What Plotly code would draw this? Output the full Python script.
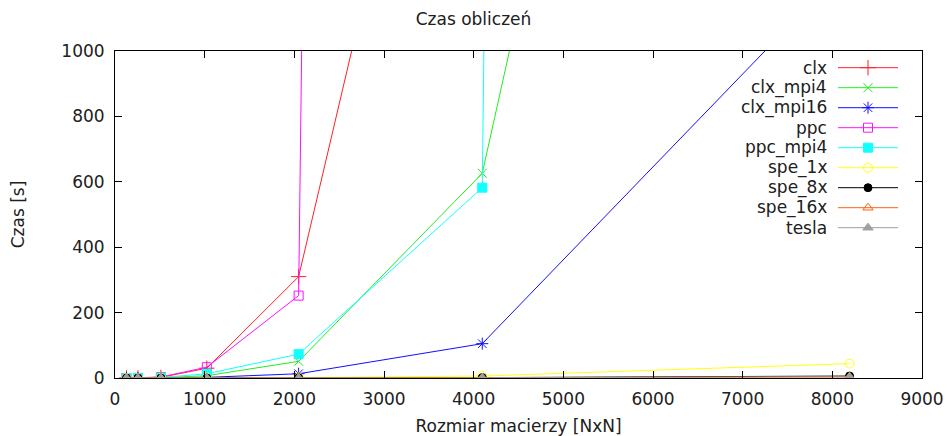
import plotly.graph_objects as go

# ---- data ----
sizes = [128, 256, 512, 1024, 2048, 4096, 8192]
series_names = ["clx", "clx_mpi4", "clx_mpi16", "ppc", "ppc_mpi4",
                "spe_1x", "spe_8x", "spe_16x", "tesla"]
clx       = [0.02, 0.2, 2.0, 30, 310, 2700, None]
clx_mpi4  = [0.02, 0.1, 1.0, 7, 51, 626, 5680]
clx_mpi16 = [0.01, 0.05, 0.3, 2, 13, 105, 1268]
ppc       = [0.03, 0.3, 3.0, 33, 252, 46000, None]
ppc_mpi4  = [0.02, 0.2, 1.5, 13, 73, 582, 96000]
spe_1x    = [0.0, 0.01, 0.1, 0.5, 1.5, 6, 44]
spe_8x    = [0.0, 0.0, 0.02, 0.1, 0.4, 1.2, 6]
spe_16x   = [0.0, 0.0, 0.01, 0.08, 0.3, 0.9, 4]
tesla     = [0.0, 0.0, 0.01, 0.05, 0.2, 0.6, 3]
values = [clx, clx_mpi4, clx_mpi16, ppc, ppc_mpi4, spe_1x, spe_8x, spe_16x, tesla]

x_ticks = [0, 1000, 2000, 3000, 4000, 5000, 6000, 7000, 8000, 9000]
y_ticks = [0, 200, 400, 600, 800, 1000]

# ---- styles ----
colors = ["#ff2020", "#20ee20", "#1010ff", "#ff10ff", "#10ffff",
          "#ffff10", "#000000", "#ff6010", "#a0a0a0"]
symbols = ["cross-thin-open", "x-thin-open", "asterisk-open", "square-open",
           "square", "circle-open", "circle", "triangle-up-open", "triangle-up"]
msizes = [11, 9, 10, 9, 9, 9, 8, 9, 9]

FONT = "DejaVu Sans"
FS = 17
TXT = "#202020"
W, H = 947, 436
ML, MR, MT, MB = 115, 25, 51, 58

fig = go.Figure()
for name, vals, c, s, ms in zip(series_names, values, colors, symbols, msizes):
    fig.add_trace(go.Scatter(
        x=sizes, y=vals, name=name, mode="lines+markers",
        line=dict(color=c, width=1),
        marker=dict(symbol=s, size=ms, color=c, line=dict(color=c, width=1)),
        cliponaxis=True, showlegend=False, connectgaps=False))

# ---- custom legend (gnuplot style: text right, sample to the right) ----
row0, row_step = 67.7, 20.0
for i, (name, c, s, ms) in enumerate(zip(series_names, colors, symbols, msizes)):
    yy = row0 + i * row_step
    fig.add_trace(go.Scatter(
        x=[838, 898], y=[yy, yy], mode="lines", line=dict(color=c, width=1),
        xaxis="x2", yaxis="y2", showlegend=False, hoverinfo="skip"))
    fig.add_trace(go.Scatter(
        x=[868], y=[yy], mode="markers",
        marker=dict(symbol=s, size=ms, color=c, line=dict(color=c, width=1)),
        xaxis="x2", yaxis="y2", showlegend=False, hoverinfo="skip"))
    fig.add_annotation(x=829, y=yy, xref="x2", yref="y2", text=name,
                       showarrow=False, xanchor="right", yanchor="middle",
                       font=dict(family=FONT, size=FS, color=TXT))

axis_common = dict(showline=True, linecolor="#000000", linewidth=1,
                   mirror="ticks", ticks="inside", ticklen=7, tickwidth=1,
                   tickcolor="#000000", showgrid=False, zeroline=False,
                   automargin=False, ticklabelstandoff=6,
                   tickfont=dict(family=FONT, size=FS, color=TXT))

fig.update_layout(
    width=W, height=H,
    margin=dict(l=ML, r=MR, t=MT, b=MB),
    paper_bgcolor="white", plot_bgcolor="white",
    title=dict(text="Czas obliczeń", x=0.5, xanchor="center", y=1 - 19 / H,
               yanchor="middle", font=dict(family=FONT, size=FS, color=TXT)),
    xaxis=dict(range=[0, 9000], tickvals=x_ticks,
               title=dict(text="Rozmiar macierzy [NxN]", standoff=17,
                          font=dict(family=FONT, size=FS, color=TXT)),
               **axis_common),
    yaxis=dict(range=[0, 1000], tickvals=y_ticks,
               title=dict(text="Czas [s]", standoff=32,
                          font=dict(family=FONT, size=FS, color=TXT)),
               **axis_common),
    xaxis2=dict(range=[ML, W - MR], overlaying="x", visible=False, fixedrange=True),
    yaxis2=dict(range=[H - MB, MT], overlaying="y", visible=False, fixedrange=True),
    showlegend=False,
)

fig.write_html("out.html", config={"displayModeBar": False},
               post_script="document.body.style.margin='0';document.body.style.padding='0';")
